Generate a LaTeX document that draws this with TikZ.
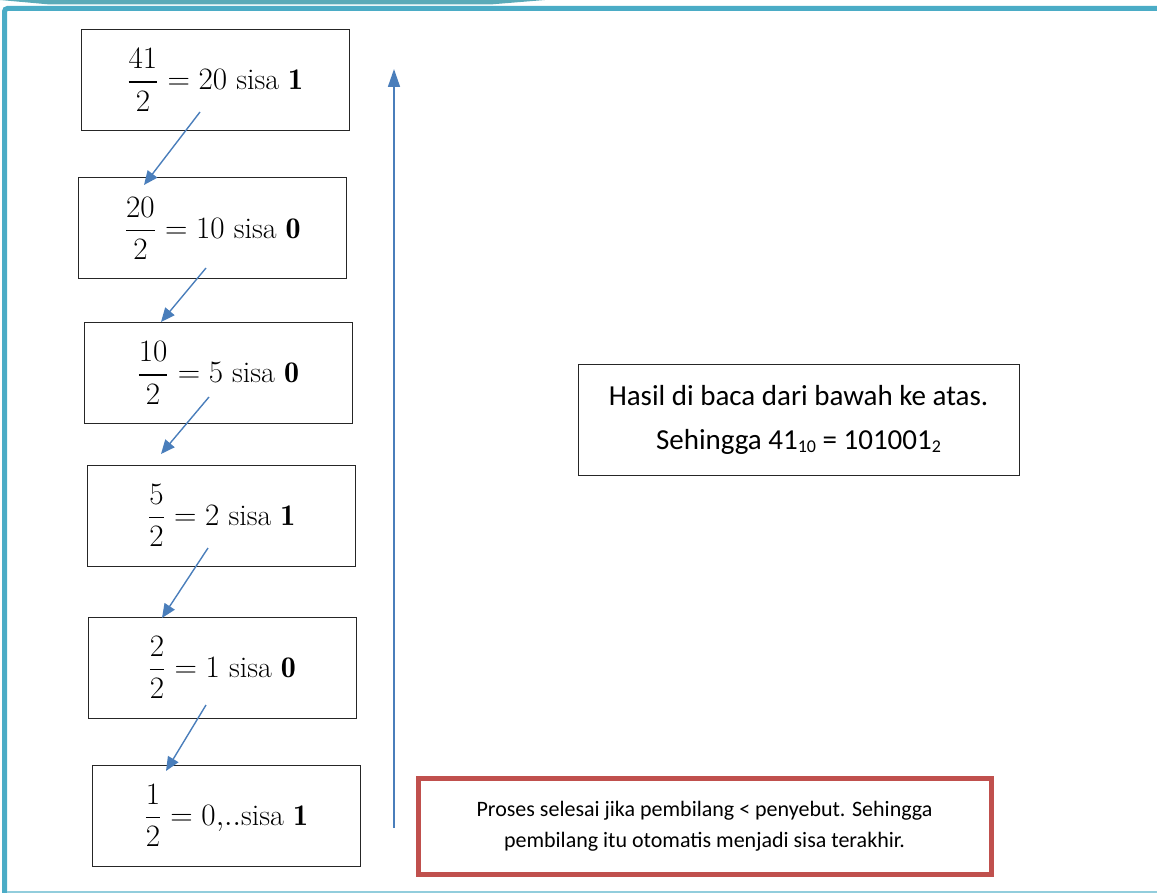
\documentclass[tikz,border=0pt]{standalone}
\usepackage{amsmath}
\usepackage{graphicx}
\usepackage{fontspec}
\newfontfamily\calibri{Carlito}
\usetikzlibrary{arrows.meta}
\definecolor{teal1}{HTML}{4BACC6}
\definecolor{teal2}{HTML}{92CDDC}
\definecolor{band}{HTML}{5AAAB8}
\definecolor{arrblue}{HTML}{4A7EBB}
\definecolor{redbox}{HTML}{C0504D}
\newcommand{\bigeq}[1]{\scalebox{1.5}{\fontsize{20}{24}\selectfont #1}}
\newcommand{\subsc}[1]{\raisebox{-3pt}{\fontsize{18}{18}\selectfont #1}}
\tikzset{
  stepbox/.style={draw=black!85, line width=1pt, minimum width=268pt, minimum height=101pt, inner sep=0pt},
  arr/.style={draw=arrblue, line width=1.4pt, -{Triangle[length=14pt,width=12pt]}},
  resbox/.style={draw=black!85, line width=1pt, minimum width=441pt, minimum height=110pt, inner sep=0pt,
    align=center, font=\calibri\fontsize{29}{44}\selectfont},
  notebox/.style={draw=redbox, line width=5pt, minimum width=573pt, minimum height=96pt, inner sep=0pt,
    align=center, font=\calibri\fontsize{22}{31}\selectfont}
}
\begin{document}
\begin{tikzpicture}[x=1pt,y=-1pt]
\useasboundingbox (0,0) rectangle (1157,893);
% frame
\fill[band] (0,0) -- (545,0) -- (490,4.5) -- (50,4.5) -- cycle;
\draw[teal1, line width=5pt, rounded corners=3pt] (4.5,893) -- (4.5,8.5) -- (1157,8.5);
\draw[teal2, line width=1.5pt] (7,892) -- (1157,892);
% boxes
\node[stepbox] (b1) at (215,80) {\bigeq{$\dfrac{41}{2} = 20\ \mathrm{sisa}\ \mathbf{1}$}};
\node[stepbox] (b2) at (212.5,228.5) {\bigeq{$\dfrac{20}{2} = 10\ \mathrm{sisa}\ \mathbf{0}$}};
\node[stepbox] (b3) at (218,373) {\bigeq{$\dfrac{10}{2} = 5\ \mathrm{sisa}\ \mathbf{0}$}};
\node[stepbox] (b4) at (221.5,515.5) {\bigeq{$\dfrac{5}{2} = 2\ \mathrm{sisa}\ \mathbf{1}$}};
\node[stepbox] (b5) at (222,667.5) {\bigeq{$\dfrac{2}{2} = 1\ \mathrm{sisa}\ \mathbf{0}$}};
\node[stepbox] (b6) at (226,815.5) {\bigeq{$\dfrac{1}{2} = 0{,}..\mathrm{sisa}\ \mathbf{1}$}};
% arrows
\coordinate (s1) at (200,112); \coordinate (e1) at (144,185);
\coordinate (s2) at (206,268); \coordinate (e2) at (161,322);
\coordinate (s3) at (209,397); \coordinate (e3) at (161,454);
\coordinate (s4) at (208,548); \coordinate (e4) at (162,618);
\coordinate (s5) at (206,705); \coordinate (e5) at (166,771);
\draw[arr] (s1) -- (e1);
\draw[arr] (s2) -- (e2);
\draw[arr] (s3) -- (e3);
\draw[arr] (s4) -- (e4);
\draw[arr] (s5) -- (e5);
\coordinate (vb) at (394,828); \coordinate (vt) at (394,69);
\draw[arrblue, line width=1.6pt, -{Triangle[length=18pt,width=12pt]}] (vb) -- (vt);
% result
\node[resbox] (res) at (798.5,420) {Hasil di baca dari bawah ke atas.\\Sehingga 41\subsc{10} = 101001\subsc{2}};
\node[notebox] (note) at (704.5,826) {Proses selesai jika pembilang < penyebut. Sehingga\\pembilang itu otomatis menjadi sisa terakhir.};
\end{tikzpicture}
\end{document}
